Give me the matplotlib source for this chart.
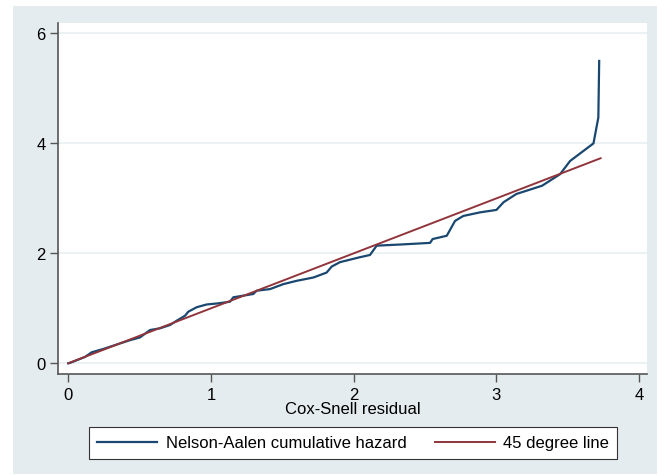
import numpy as np
import matplotlib.pyplot as plt
from matplotlib.patches import Rectangle

plt.rcParams['font.family'] = ['Liberation Sans', 'DejaVu Sans']

# Nelson-Aalen cumulative hazard vs Cox-Snell residual
cs_resid = [0.0, 0.01, 0.117, 0.164, 0.245, 0.35, 0.432, 0.502, 0.573, 0.643,
            0.713, 0.76, 0.818, 0.841, 0.9, 0.97, 1.05, 1.133, 1.156, 1.226,
            1.296, 1.32, 1.414, 1.507, 1.6, 1.717, 1.81, 1.846, 1.904, 2.044,
            2.114, 2.161, 2.324, 2.535, 2.553, 2.652, 2.71, 2.768, 2.885, 3.0,
            3.05, 3.14, 3.32, 3.446, 3.516, 3.68, 3.714, 3.72]
na_hazard = [0.0, 0.005, 0.115, 0.2, 0.26, 0.35, 0.42, 0.47, 0.605, 0.636,
             0.696, 0.775, 0.865, 0.938, 1.02, 1.07, 1.09, 1.12, 1.2, 1.23,
             1.26, 1.32, 1.35, 1.44, 1.5, 1.56, 1.65, 1.76, 1.84, 1.93,
             1.97, 2.14, 2.16, 2.19, 2.26, 2.32, 2.59, 2.68, 2.745, 2.79,
             2.93, 3.08, 3.23, 3.44, 3.68, 4.0, 4.47, 5.5]
line45 = [0.0, 3.73]

xticks = [0, 1, 2, 3, 4]
yticks = [0, 2, 4, 6]

blue = '#1a476f'
red = '#90353b'
bg = '#e5ecef'

fig = plt.figure(figsize=(6.67, 4.77), dpi=100, facecolor='white')

# graph region (light background behind everything)
bg_ax = fig.add_axes([0, 0, 1, 1], zorder=-10)
bg_ax.set_axis_off()
bg_ax.add_patch(Rectangle((12.7/667, 2/477), 644/667, 468/477,
                          transform=bg_ax.transAxes, facecolor=bg,
                          edgecolor='none'))

ax = fig.add_axes([58/667, 1 - 375/477, 589/667, 351/477])
ax.set_facecolor('white')
ax.plot(cs_resid, na_hazard, color=blue, lw=1.6, label='Nelson-Aalen cumulative hazard', zorder=3)
ax.plot(line45, line45, color=red, lw=1.4, label='45 degree line', zorder=3)

ax.set_xlim(-0.072, 4.055)
ax.set_ylim(-0.195, 6.19)
ax.set_xticks(xticks)
ax.set_yticks(yticks)
ax.tick_params(labelsize=12, length=6, color='#555555', width=1, pad=3)
ax.grid(axis='y', color='#eaf2f3', lw=1.5, zorder=0)
ax.set_axisbelow(True)
for s in ['top', 'right']:
    ax.spines[s].set_visible(False)
for s in ['left', 'bottom']:
    ax.spines[s].set_color('#555555')
    ax.spines[s].set_linewidth(1.2)
ax.set_xlabel('Cox-Snell residual', fontsize=12, labelpad=0)

leg = fig.legend(loc='center', bbox_to_anchor=(353/667, 1 - 444/477), ncol=2,
                 fontsize=12, frameon=True, fancybox=False, edgecolor='#333333',
                 framealpha=1, handlelength=3.6, handletextpad=0.5,
                 columnspacing=1.7, borderpad=0.5)
leg.get_frame().set_linewidth(0.8)

fig.savefig('out.png', dpi=100, facecolor='white')
